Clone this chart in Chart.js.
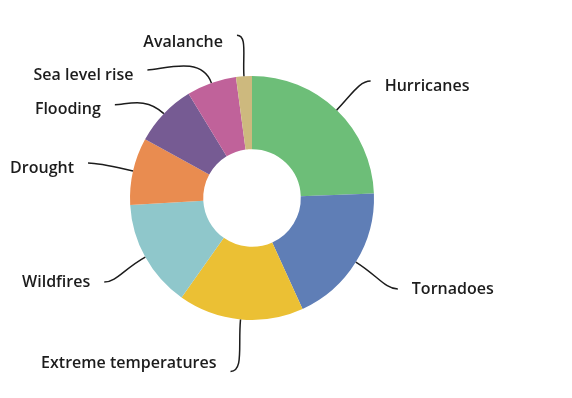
<!DOCTYPE html>
<html>
<head>
<meta charset="utf-8">
<script src="https://cdn.jsdelivr.net/npm/chart.js@4"></script>
<style>
  html, body { margin: 0; padding: 0; background: #fff; }
  #wrap { width: 572px; height: 398px; position: relative; }
</style>
</head>
<body>
<div id="wrap"><canvas id="disasterChart"></canvas></div>
<script>
// share of disasters (percent)
const categories = ["Hurricanes", "Tornadoes", "Extreme temperatures", "Wildfires", "Drought", "Flooding", "Sea level rise", "Avalanche"];
const shares = [24.4, 18.8, 16.6, 14.3, 8.9, 8.3, 6.6, 2.1];
const sliceColors = ["#6dbe78", "#5f7eb6", "#ebc034", "#8fc7cb", "#e98c50", "#765b93", "#c0629a", "#cdb97e"];

// where each leader line ends, relative to the slice edge, and how the label sits
const leaderEnd = [[34, -29], [42, 27], [-10, 52], [-41, 25], [-45, -8], [-49, -9], [-64, -13], [-7, -41]];
const labelShift = [5, 0, -8, 0, 5, 5, 5, 7];

const leaderLabels = {
    id: "leaderLabels",
    afterDatasetsDraw(chart) {
        let ctx = chart.ctx;
        let arcs = chart.getDatasetMeta(0).data;
        ctx.save();
        ctx.font = "600 16px 'Open Sans'";
        ctx.textBaseline = "middle";
        arcs.forEach((arc, i) => {
            let mid = (arc.startAngle + arc.endAngle) / 2;
            let dx = Math.cos(mid), dy = Math.sin(mid);
            let sx = arc.x + dx * arc.outerRadius;
            let sy = arc.y + dy * arc.outerRadius;
            let ex = sx + leaderEnd[i][0];
            let ey = sy + leaderEnd[i][1];
            let dir = leaderEnd[i][0] >= 0 ? 1 : -1;
            let k = Math.min(Math.hypot(ex - sx, ey - sy) * 0.5, 30);

            ctx.beginPath();
            ctx.moveTo(sx, sy);
            ctx.bezierCurveTo(sx + dx * k, sy + dy * k, ex - dir * k * 0.5, ey, ex, ey);
            ctx.strokeStyle = "#1c1c1c";
            ctx.lineWidth = 1.5;
            ctx.stroke();

            ctx.fillStyle = "#1c1c1c";
            ctx.textAlign = dir > 0 ? "left" : "right";
            ctx.fillText(categories[i], ex + dir * 14, ey + labelShift[i]);
        });
        ctx.restore();
    }
};

const ctx = document.getElementById("disasterChart").getContext("2d");
new Chart(ctx, {
    type: "doughnut",
    data: {
        labels: categories,
        datasets: [{
            data: shares,
            backgroundColor: sliceColors,
            borderWidth: 0
        }]
    },
    options: {
        responsive: true,
        maintainAspectRatio: false,
        animation: false,
        cutout: "40%",
        layout: { padding: { top: 76, bottom: 78, left: 130, right: 198 } },
        plugins: {
            legend: { display: false },
            tooltip: { enabled: false }
        }
    },
    plugins: [leaderLabels]
});
</script>
</body>
</html>
